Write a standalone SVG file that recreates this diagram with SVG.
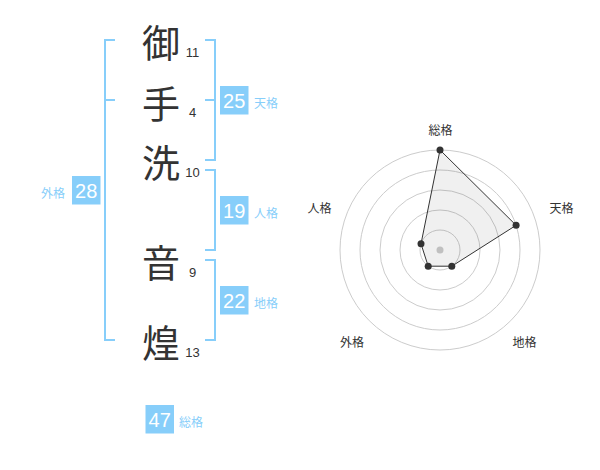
<svg xmlns="http://www.w3.org/2000/svg" width="600" height="470" viewBox="0 0 600 470">
<style>
.ch{font-family:"Noto Sans CJK JP","Noto Sans CJK SC",sans-serif;font-size:38px;fill:#333;text-anchor:middle;dominant-baseline:central}
.st{font-family:"Liberation Sans",Arial,sans-serif;font-size:13px;fill:#333;text-anchor:middle}
.br{fill:none;stroke:#87cefa;stroke-width:2}
.bx{fill:#87cefa}
.bn{font-family:"Liberation Sans",Arial,sans-serif;font-size:20px;fill:#fff;text-anchor:middle}
.bl{font-family:"Noto Sans CJK JP","Noto Sans CJK SC",sans-serif;font-size:12px;fill:#87cefa}
.rl{font-family:"Noto Sans CJK JP","Noto Sans CJK SC",sans-serif;font-size:12px;fill:#333;text-anchor:middle}
.ring{fill:none;stroke:#ccc;stroke-width:1}
.pt{fill:#333}
</style>
<rect width="600" height="470" fill="#fff"/>
<g id="connectors">
<path class="br" d="M115,40 H105 V340 H115 M105,100 H115"/>
<path class="br" d="M205,40 H215 V160 H205 M205,100 H215"/>
<path class="br" d="M205,170 H215 V250 H205"/>
<path class="br" d="M205,260 H215 V340 H205"/>
</g>
<g id="char1"><text class="ch" x="161" y="40">御</text><text class="st" x="192.5" y="57">11</text></g>
<g id="char2"><text class="ch" x="161" y="101">手</text><text class="st" x="192.5" y="117">4</text></g>
<g id="char3"><text class="ch" x="161" y="160">洗</text><text class="st" x="192.5" y="177">10</text></g>
<g id="char4"><text class="ch" x="161" y="260">音</text><text class="st" x="192.5" y="277">9</text></g>
<g id="char5"><text class="ch" x="161" y="340">煌</text><text class="st" x="192.5" y="357">13</text></g>
<g id="tenkaku"><rect class="bx" x="220" y="86" width="28.5" height="28.5"/><text class="bn" x="234.2" y="108">25</text><text class="bl" x="254" y="108">天格</text></g>
<g id="jinkaku"><rect class="bx" x="220" y="196" width="28.5" height="28.5"/><text class="bn" x="234.2" y="218">19</text><text class="bl" x="254" y="218">人格</text></g>
<g id="chikaku"><rect class="bx" x="220" y="286" width="28.5" height="28.5"/><text class="bn" x="234.2" y="308">22</text><text class="bl" x="254" y="308">地格</text></g>
<g id="gaikaku"><rect class="bx" x="72" y="176" width="28.5" height="28.5"/><text class="bn" x="86.2" y="198">28</text><text class="bl" x="41" y="198">外格</text></g>
<g id="soukaku"><rect class="bx" x="145.5" y="405" width="28.5" height="28.5"/><text class="bn" x="159.7" y="427">47</text><text class="bl" x="179" y="427">総格</text></g>
<g id="radar">
<circle class="ring" cx="440" cy="250" r="20"/>
<circle class="ring" cx="440" cy="250" r="40"/>
<circle class="ring" cx="440" cy="250" r="60"/>
<circle class="ring" cx="440" cy="250" r="80"/>
<circle class="ring" cx="440" cy="250" r="100"/>
<circle cx="440" cy="250" r="3.5" fill="#ccc"/>
<polygon points="440,150 516.1,225.3 451.8,266.2 428.2,266.2 421,243.8" fill="rgba(0,0,0,0.06)" stroke="#333" stroke-width="1"/>
<circle class="pt" cx="440" cy="150" r="3.5"/>
<circle class="pt" cx="516.1" cy="225.3" r="3.5"/>
<circle class="pt" cx="451.8" cy="266.2" r="3.5"/>
<circle class="pt" cx="428.2" cy="266.2" r="3.5"/>
<circle class="pt" cx="421" cy="243.8" r="3.5"/>
<text class="rl" x="440.5" y="135">総格</text>
<text class="rl" x="561.5" y="213">天格</text>
<text class="rl" x="319.5" y="213">人格</text>
<text class="rl" x="352" y="347">外格</text>
<text class="rl" x="524.5" y="347">地格</text>
</g>
</svg>
